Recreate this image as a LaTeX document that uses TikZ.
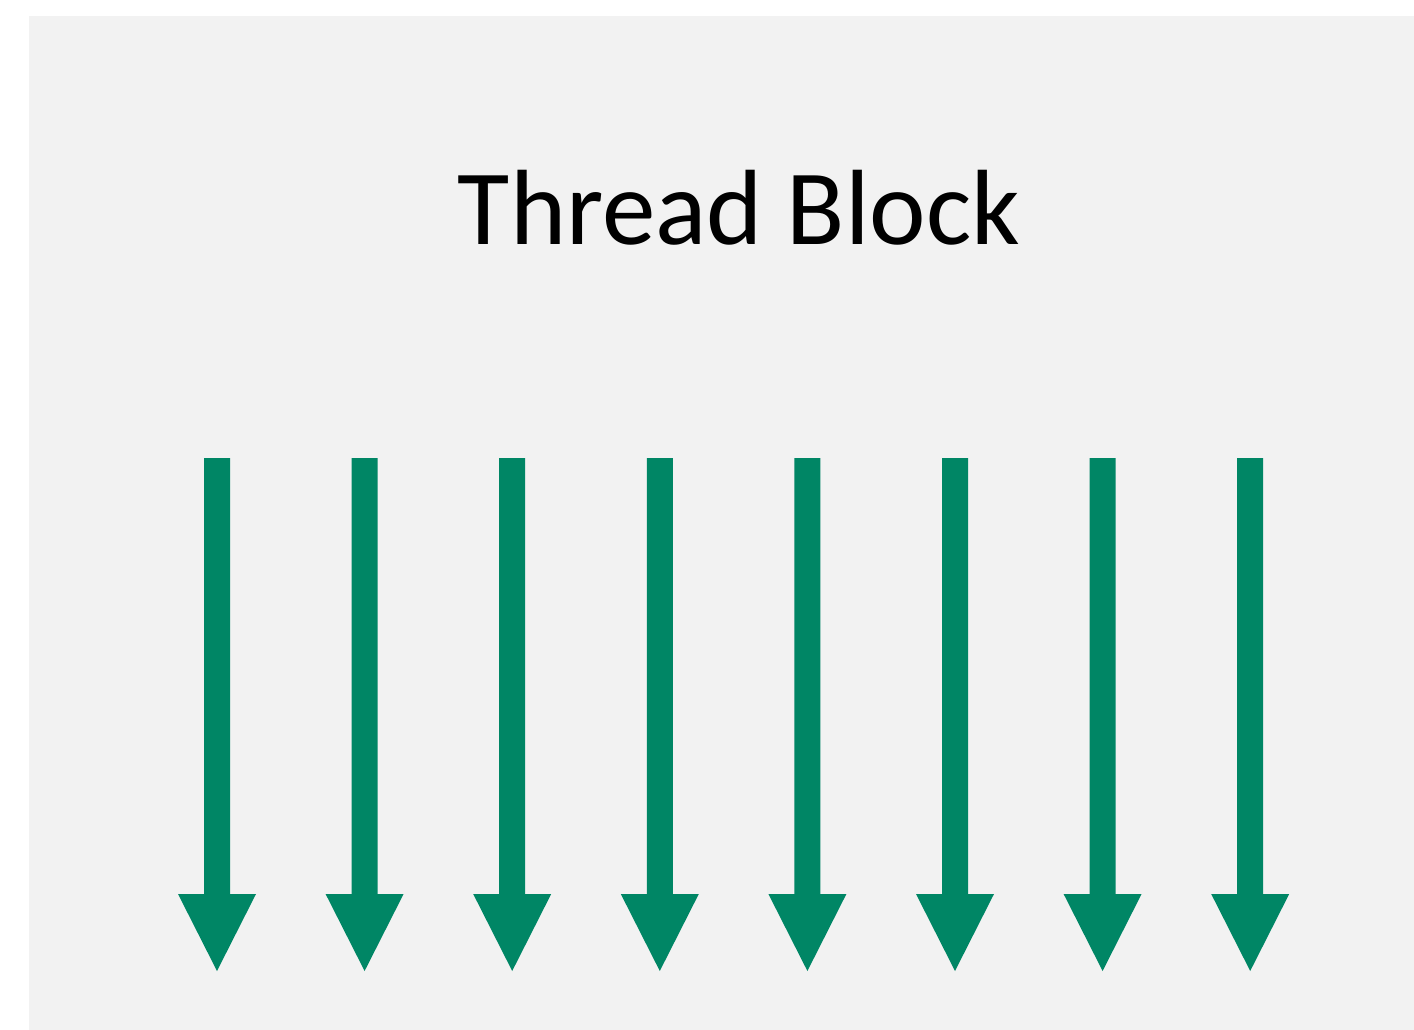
\documentclass[tikz,border=0pt]{standalone}
\usepackage{fontspec}
\newfontfamily\labelfont{Carlito}
\definecolor{panelgray}{RGB}{242,242,242}
\definecolor{flowgreen}{RGB}{0,134,101}
\begin{document}
\begin{tikzpicture}[x=1pt,y=-1pt,
  panel/.style={fill=panelgray,draw=none},
  flow/.style={fill=flowgreen,draw=none},
  title/.style={font=\labelfont\fontsize{107}{128}\selectfont,inner sep=0pt,anchor=base}]
  \useasboundingbox (0,0) rectangle (1414,1030);
  % block background
  \fill[panel] (29,16) rectangle (1414,1030);
  \node[title] (label) at (739,244) {Thread Block};
  % one thread per arrow
  \foreach \i in {0,...,7}{
    \coordinate (s\i) at ({217+147.6*\i},458);
    \coordinate (e\i) at ({217+147.6*\i},971);
    \fill[flow] (s\i) ++(-13,0) -- ++(26,0) -- ++(0,436) -- ++(26,0)
      -- (e\i) -- ++(-39,-77) -- ++(26,0) -- cycle;
  }
\end{tikzpicture}
\end{document}
